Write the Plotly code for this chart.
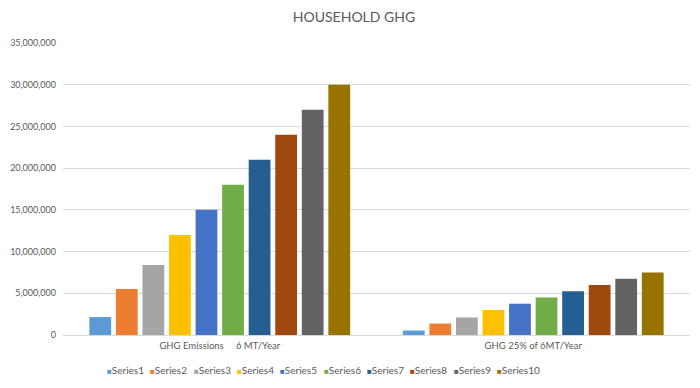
import plotly.graph_objects as go

categories = ["GHG Emissions\u00a0\u00a0\u00a0\u00a0 6 MT/Year", "GHG 25% of 6MT/Year"]
series_names = ["Series1", "Series2", "Series3", "Series4", "Series5",
                "Series6", "Series7", "Series8", "Series9", "Series10"]
emissions = [2150000, 5500000, 8400000, 12000000, 15000000,
             18000000, 21000000, 24000000, 27000000, 30000000]
emissions_25 = [537500, 1375000, 2100000, 3000000, 3750000,
                4500000, 5250000, 6000000, 6750000, 7500000]
colors = ["#5B9BD5", "#ED7D31", "#A5A5A5", "#FFC000", "#4472C4",
          "#70AD47", "#255E91", "#9E480E", "#636363", "#997300"]
y_ticks = [0, 5000000, 10000000, 15000000, 20000000, 25000000, 30000000, 35000000]

FONT = "Lato, 'Open Sans', sans-serif"
GREY = "#595959"

fig = go.Figure()
for i, name in enumerate(series_names):
    fig.add_trace(go.Bar(
        x=categories,
        y=[emissions[i], emissions_25[i]],
        name=name,
        marker=dict(color=colors[i], line=dict(width=0)),
        showlegend=False,
    ))

# legend drawn as a row of text entries (Excel-style compact legend)
annotations = []
leg_x0 = 0.067
leg_step = 0.0691
for i, name in enumerate(series_names):
    annotations.append(dict(
        xref="paper", yref="paper",
        x=leg_x0 + i * leg_step, y=-0.12,
        xanchor="left", yanchor="middle",
        showarrow=False,
        text=f"<span style='color:{colors[i]};font-size:8px'>\u25A0</span>{name}",
        font=dict(family=FONT, size=10, color=GREY),
    ))

fig.update_layout(
    width=692, height=380,
    paper_bgcolor="white", plot_bgcolor="white",
    margin=dict(l=55, r=10, t=35, b=53),
    title=dict(text="HOUSEHOLD GHG", x=0.5, xanchor="center", y=0.976, yanchor="middle",
               font=dict(family=FONT, size=14, color=GREY)),
    barmode="group",
    bargap=0.153,
    bargroupgap=0.18,
    font=dict(family=FONT, size=10, color=GREY),
    annotations=annotations,
    xaxis=dict(showgrid=False, showline=True, linecolor="#D9D9D9", linewidth=1,
               ticks="", automargin=False, ticklabelstandoff=2,
               tickfont=dict(family=FONT, size=9.5, color=GREY)),
    yaxis=dict(range=[0, 35000000], tickvals=y_ticks, tickformat=",",
               showgrid=True, gridcolor="#D9D9D9", gridwidth=1,
               zeroline=False, showline=False, ticks="", automargin=False,
               ticklabelstandoff=6,
               tickfont=dict(family=FONT, size=9, color=GREY)),
)

fig.write_html("out.html")
